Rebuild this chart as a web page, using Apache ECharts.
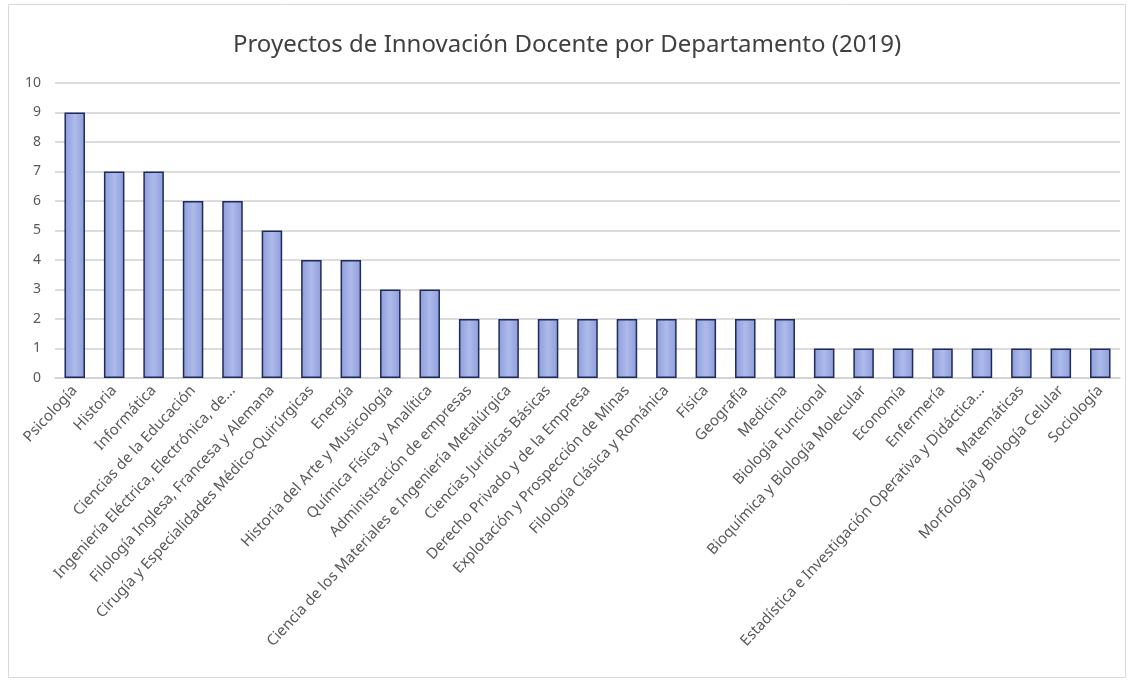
<!DOCTYPE html>
<html><head><meta charset="utf-8">
<script src="https://cdn.jsdelivr.net/npm/echarts@6/dist/echarts.min.js"></script>
<style>html,body{margin:0;padding:0;background:#fff}#c{width:1134px;height:682px}</style>
</head><body><div id="c"></div>
<script>
const categories = ["Psicología","Historia","Informática","Ciencias de la Educación","Ingeniería Eléctrica, Electrónica, de...","Filología Inglesa, Francesa y Alemana","Cirugía y Especialidades Médico-Quirúrgicas","Energía","Historia del Arte y Musicología","Química Física y Analítica","Administración de empresas","Ciencia de los Materiales e Ingeniería Metalúrgica","Ciencias Jurídicas Básicas","Derecho Privado y de la Empresa","Explotación y Prospección de Minas","Filología Clásica y Románica","Física","Geografía","Medicina","Biología Funcional","Bioquímica y Biología Molecular","Economía","Enfermería","Estadística e Investigación Operativa y Didáctica...","Matemáticas","Morfología y Biología Celular","Sociología"];
const values = [9,7,7,6,6,5,4,4,3,3,2,2,2,2,2,2,2,2,2,1,1,1,1,1,1,1,1];
const yTicks = [0,1,2,3,4,5,6,7,8,9,10];
const titleText = "Proyectos de Innovación Docente por Departamento (2019)";

const chart = echarts.init(document.getElementById('c'));
chart.setOption({
  backgroundColor: '#fff',
  graphic: [{type:'rect', shape:{x:8.5,y:4.5,width:1117,height:673}, style:{fill:'none', stroke:'#d9d9d9', lineWidth:1}}],
  title: {text: titleText, left: 'center', top: 28, textStyle:{fontFamily:'Noto Sans', fontWeight:'normal', fontSize:24, color:'#404040'}},
  grid: {left: 55, right: 14, top: 83, bottom: 304, containLabel: false},
  xAxis: {type:'category', data: categories,
    axisLine:{lineStyle:{color:'#d0d0d0', width:1.5}}, axisTick:{show:false},
    axisLabel:{interval:0, rotate:47, fontFamily:'Noto Sans', fontSize:15, color:'#595959', margin:10}},
  yAxis: {type:'value', min: yTicks[0], max: yTicks[yTicks.length-1], interval:1,
    axisLine:{show:false}, axisTick:{show:false},
    splitLine:{lineStyle:{color:'#d0d0d0', width:1.5}},
    axisLabel:{fontFamily:'Noto Sans', fontSize:14, color:'#595959', margin:14}},
  series: [{type:'bar', data: values, barWidth:'52%',
    itemStyle:{borderColor:'#1f2a5c', borderWidth:1.5,
      color: new echarts.graphic.LinearGradient(0,0,1,0,[{offset:0,color:'#8d9dd9'},{offset:0.5,color:'#adbaeb'},{offset:1,color:'#8d9dd9'}])}}]
});
</script></body></html>
